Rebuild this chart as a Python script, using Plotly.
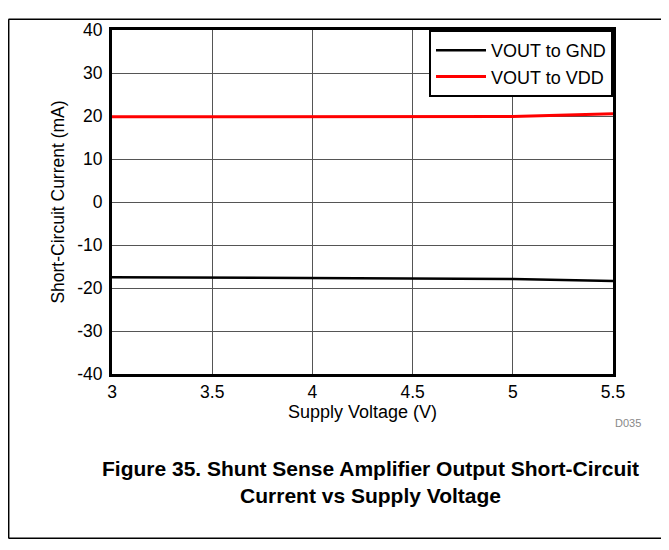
import plotly.graph_objects as go

voltage = [3.0, 3.5, 4.0, 4.5, 5.0, 5.5]
i_gnd = [-17.5, -17.6, -17.6, -17.7, -17.9, -18.4]
i_vdd = [19.8, 19.8, 19.8, 19.8, 19.9, 20.5]

x_ticks = [3, 3.5, 4, 4.5, 5, 5.5]
x_tick_labels = ["3", "3.5", "4", "4.5", "5", "5.5"]
y_ticks = [-40, -30, -20, -10, 0, 10, 20, 30, 40]
y_tick_labels = ["-40", "-30", "-20", "-10", "0", "10", "20", "30", "40"]

FONT = "Liberation Sans, Arial, sans-serif"

fig = go.Figure()
fig.add_trace(go.Scatter(x=voltage, y=i_gnd, mode="lines", name="VOUT to GND",
                         line=dict(color="black", width=2.5)))
fig.add_trace(go.Scatter(x=voltage, y=i_vdd, mode="lines", name="VOUT to VDD",
                         line=dict(color="#ff0000", width=3)))

# page has an 8px body margin; figure coordinates are offset by it
OFF = 8
W, H = 661, 542
L, T = 112 - OFF, 20 - OFF
PW, PH = 501, 354
R = W - L - PW
B = H - T - PH


def px(x):
    return (x - OFF - L) / PW


def py(y):
    return (H - B - (y - OFF)) / PH


fig.update_layout(
    width=W, height=H,
    margin=dict(l=L, r=R, t=T, b=B),
    paper_bgcolor="white", plot_bgcolor="white",
    font=dict(family=FONT, size=17, color="black"),
    showlegend=True,
    legend=dict(x=1, y=1, xanchor="right", yanchor="top",
                bordercolor="black", borderwidth=2, bgcolor="white",
                font=dict(size=18, family=FONT), tracegroupgap=0,
                itemwidth=50),
    xaxis=dict(range=[3, 5.5], tickvals=x_ticks, ticktext=x_tick_labels,
               showgrid=True, gridcolor="#555", gridwidth=1,
               showline=True, linecolor="black", linewidth=3, mirror=True,
               ticks="", zeroline=False, tickfont=dict(size=17.5),
               title=dict(text="Supply Voltage (V)", font=dict(size=18), standoff=2)),
    yaxis=dict(range=[-40, 40], tickvals=y_ticks, ticktext=y_tick_labels,
               showgrid=True, gridcolor="#555", gridwidth=1,
               showline=True, linecolor="black", linewidth=3, mirror=True,
               ticks="", zeroline=False, tickfont=dict(size=17.5),
               ticklabelstandoff=3,
               title=dict(text="Short-Circuit Current (mA)", font=dict(size=17.5), standoff=9)),
    shapes=[
        dict(type="line", xref="paper", yref="paper", x0=px(8.5), x1=px(669), y0=py(9), y1=py(9),
             line=dict(color="black", width=1.5)),
        dict(type="line", xref="paper", yref="paper", x0=px(8.7), x1=px(8.7), y0=py(9), y1=py(543),
             line=dict(color="black", width=1.5)),
        dict(type="line", xref="paper", yref="paper", x0=px(8.5), x1=px(669), y0=py(543), y1=py(543),
             line=dict(color="black", width=1.5)),
    ],
    annotations=[
        dict(text="D035", xref="paper", yref="paper", x=px(628), y=py(424),
             xanchor="center", yanchor="middle",
             showarrow=False, font=dict(size=11, color="#888", family=FONT)),
        dict(text="<b>Figure 35. Shunt Sense Amplifier Output Short-Circuit</b><br><b>Current vs Supply Voltage</b>",
             xref="paper", yref="paper", x=px(370), y=py(485),
             xanchor="center", yanchor="middle",
             showarrow=False, align="center",
             font=dict(size=21, color="black", family=FONT)),
    ],
)

fig.write_html("out.html")
